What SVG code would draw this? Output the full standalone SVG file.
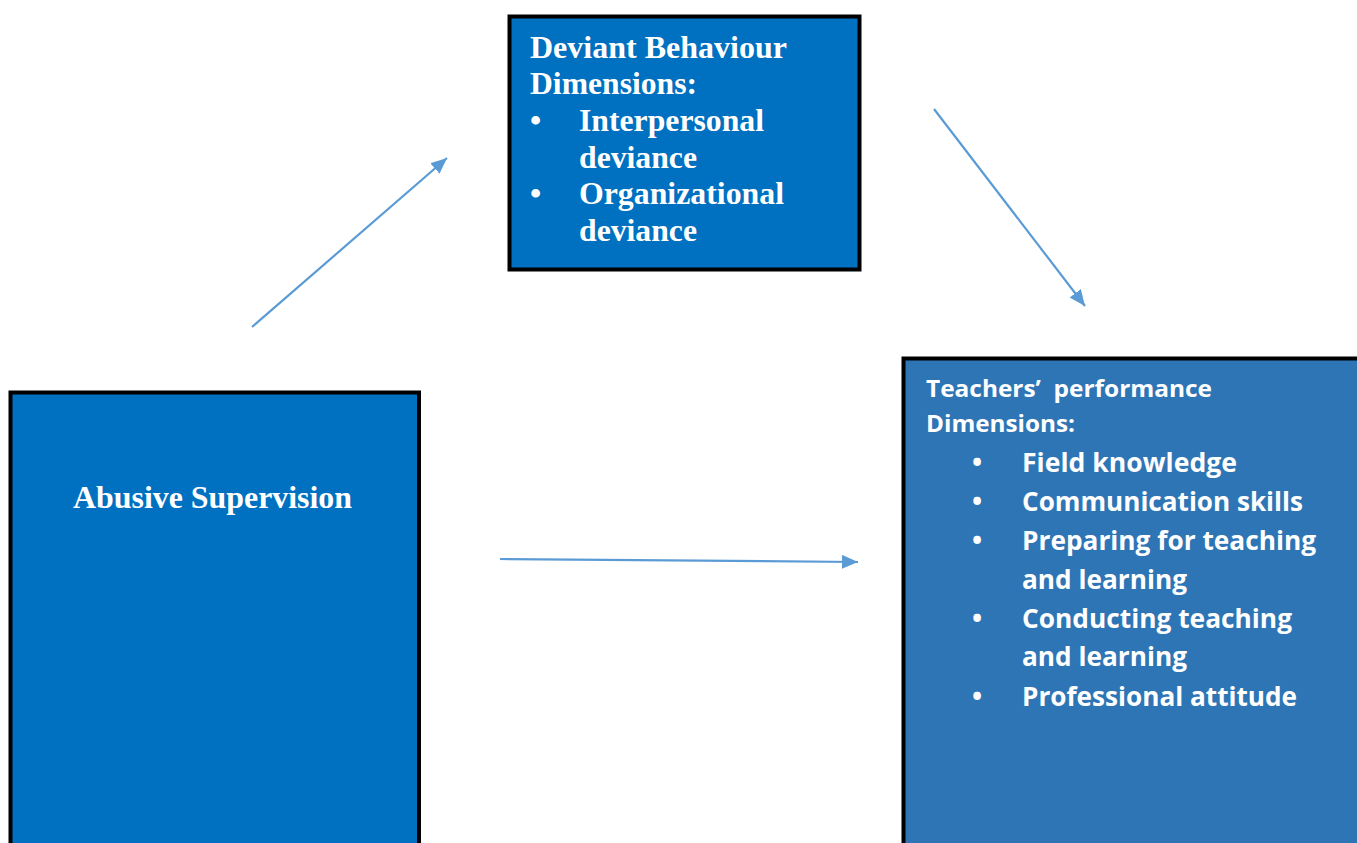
<svg xmlns="http://www.w3.org/2000/svg" width="1357" height="843" viewBox="0 0 1357 843">
<style>
.box{stroke:#000;stroke-width:4}
.serif{font-family:"Liberation Serif","Times New Roman",serif;font-weight:bold;font-size:32px;fill:#fff}
.sans{font-family:"Open Sans","Liberation Sans",sans-serif;font-weight:bold;fill:#fff}
.hd{font-size:24px}
.it{font-size:27px}
.conn{stroke:#5B9BD5;stroke-width:2.2;fill:none;marker-end:url(#ah)}
</style>
<defs>
<marker id="ah" markerUnits="userSpaceOnUse" markerWidth="18" markerHeight="14" refX="16" refY="7" orient="auto">
<path d="M0,0 L16,7 L0,14 Z" fill="#5B9BD5"/>
</marker>
</defs>
<rect width="1357" height="843" fill="#fff"/>
<g id="connectors">
<line class="conn" x1="252" y1="327" x2="447" y2="158"/>
<line class="conn" x1="934" y1="109" x2="1085" y2="306"/>
<line class="conn" x1="500" y1="559" x2="858" y2="562"/>
</g>
<g id="deviant">
<rect class="box" x="509.5" y="16.5" width="350" height="253" fill="#0070C0"/>
<text class="serif" x="530" y="58" textLength="257" lengthAdjust="spacingAndGlyphs">Deviant Behaviour</text>
<text class="serif" x="530" y="94" textLength="167" lengthAdjust="spacingAndGlyphs">Dimensions:</text>
<text class="serif" x="530" y="131">•</text>
<text class="serif" x="579" y="131" textLength="185" lengthAdjust="spacingAndGlyphs">Interpersonal</text>
<text class="serif" x="579" y="168" textLength="118" lengthAdjust="spacingAndGlyphs">deviance</text>
<text class="serif" x="530" y="204">•</text>
<text class="serif" x="579" y="204" textLength="205" lengthAdjust="spacingAndGlyphs">Organizational</text>
<text class="serif" x="579" y="241" textLength="118" lengthAdjust="spacingAndGlyphs">deviance</text>
</g>
<g id="abusive">
<rect class="box" x="10.5" y="392.5" width="408.5" height="470" fill="#0070C0"/>
<text class="serif" x="73" y="508" textLength="279" lengthAdjust="spacingAndGlyphs">Abusive Supervision</text>
</g>
<g id="teachers">
<rect class="box" x="903.5" y="358.5" width="470" height="500" fill="#2E75B6"/>
<text class="sans hd" x="926" y="397" textLength="286" lengthAdjust="spacingAndGlyphs">Teachers’&#160; performance</text>
<text class="sans hd" x="926" y="432" textLength="149" lengthAdjust="spacingAndGlyphs">Dimensions:</text>
<g class="sans it">
<text x="972" y="472">•</text>
<text x="1022" y="472" textLength="215" lengthAdjust="spacingAndGlyphs">Field knowledge</text>
<text x="972" y="511">•</text>
<text x="1022" y="511" textLength="281" lengthAdjust="spacingAndGlyphs">Communication skills</text>
<text x="972" y="550">•</text>
<text x="1022" y="550" textLength="294" lengthAdjust="spacingAndGlyphs">Preparing for teaching</text>
<text x="1022" y="589" textLength="165" lengthAdjust="spacingAndGlyphs">and learning</text>
<text x="972" y="628">•</text>
<text x="1022" y="628" textLength="270" lengthAdjust="spacingAndGlyphs">Conducting teaching</text>
<text x="1022" y="666" textLength="165" lengthAdjust="spacingAndGlyphs">and learning</text>
<text x="972" y="706">•</text>
<text x="1022" y="706" textLength="275" lengthAdjust="spacingAndGlyphs">Professional attitude</text>
</g>
</g>
</svg>
